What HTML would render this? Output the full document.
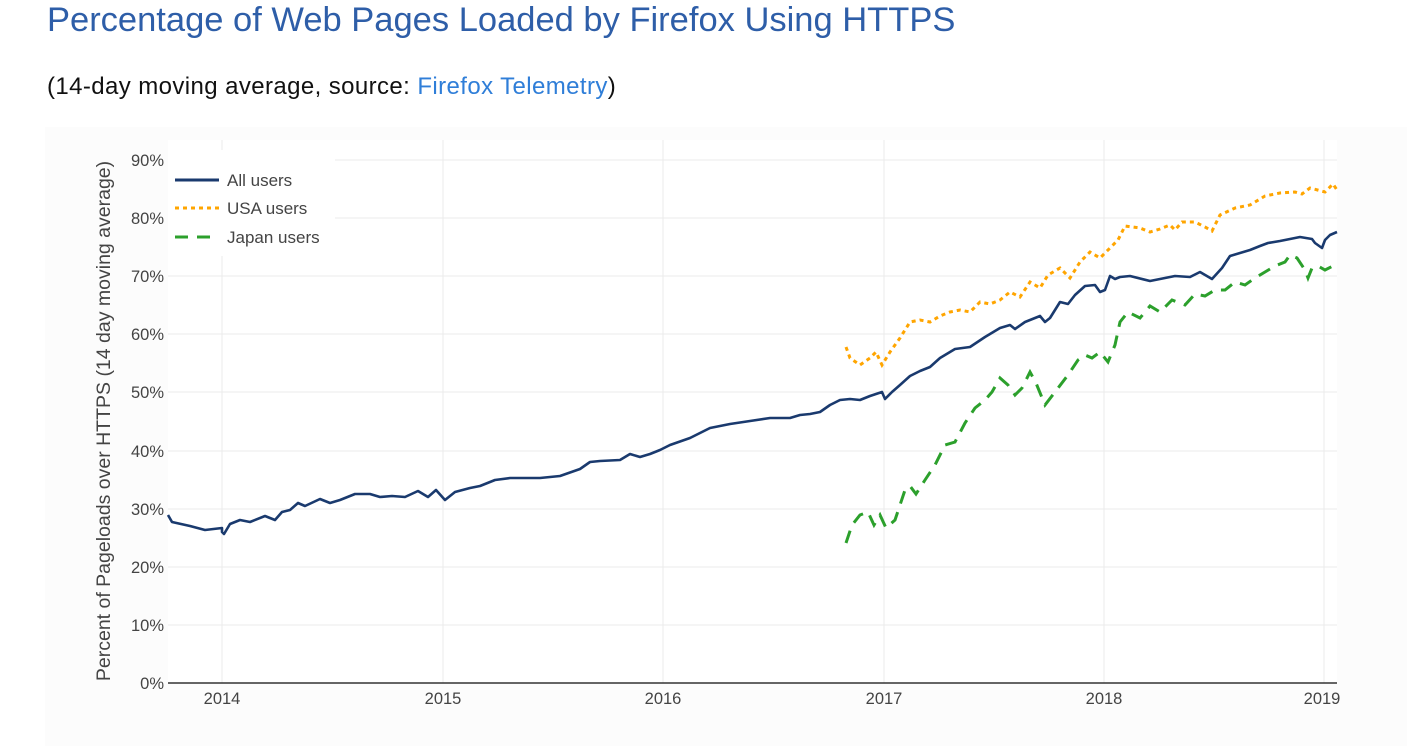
<!DOCTYPE html>
<html><head><meta charset="utf-8"><style>
body{margin:0;width:1407px;height:746px;background:#fff;font-family:"Liberation Sans",sans-serif;overflow:hidden;position:relative}
h1{position:absolute;left:47px;top:1px;margin:0;font-weight:normal;font-size:34.5px;color:#2e5ea8;letter-spacing:0px}
.sub{position:absolute;left:47px;top:73px;font-size:24px;color:#111;letter-spacing:0.4px}
.sub a{color:#2f7ed8;text-decoration:none}
</style></head><body>
<h1>Percentage of Web Pages Loaded by Firefox Using HTTPS</h1>
<div class="sub">(14-day moving average, source: <a>Firefox Telemetry</a>)</div>
<svg width="1407" height="746" style="position:absolute;left:0;top:0" font-family="Liberation Sans, sans-serif">
<rect x="45" y="127" width="1362" height="619" fill="#fcfcfc"/>
<rect x="168" y="140" width="1169" height="543" fill="#fff"/>
<g stroke="#ebebeb" stroke-width="1">
<line x1="168" x2="1337" y1="160" y2="160"/><line x1="168" x2="1337" y1="218" y2="218"/><line x1="168" x2="1337" y1="276" y2="276"/><line x1="168" x2="1337" y1="334" y2="334"/><line x1="168" x2="1337" y1="392" y2="392"/><line x1="168" x2="1337" y1="451" y2="451"/><line x1="168" x2="1337" y1="509" y2="509"/><line x1="168" x2="1337" y1="567" y2="567"/><line x1="168" x2="1337" y1="625" y2="625"/>
<line y1="140" y2="683" x1="222" x2="222"/><line y1="140" y2="683" x1="443" x2="443"/><line y1="140" y2="683" x1="663" x2="663"/><line y1="140" y2="683" x1="884" x2="884"/><line y1="140" y2="683" x1="1104" x2="1104"/><line y1="140" y2="683" x1="1324" x2="1324"/>
</g>
<rect x="168" y="150" width="167" height="106" fill="#fff"/>
<line x1="168" x2="1337" y1="683" y2="683" stroke="#333" stroke-width="1.5"/>
<g font-size="16.5" fill="#444" text-anchor="end">
<text x="164" y="166">90%</text><text x="164" y="224">80%</text><text x="164" y="282">70%</text><text x="164" y="340">60%</text><text x="164" y="398">50%</text><text x="164" y="457">40%</text><text x="164" y="515">30%</text><text x="164" y="573">20%</text><text x="164" y="631">10%</text><text x="164" y="689">0%</text>
</g>
<g font-size="16.5" fill="#444" text-anchor="middle">
<text x="222" y="704">2014</text><text x="443" y="704">2015</text><text x="663" y="704">2016</text><text x="884" y="704">2017</text><text x="1104" y="704">2018</text><text x="1322" y="704">2019</text>
</g>
<text transform="translate(110,421) rotate(-90)" font-size="19.5" fill="#444" text-anchor="middle">Percent of Pageloads over HTTPS (14 day moving average)</text>
<g font-size="17" fill="#444">
<line x1="175" x2="219" y1="180" y2="180" stroke="#1a3a6e" stroke-width="3"/><text x="227" y="186">All users</text>
<line x1="175" x2="219" y1="208" y2="208" stroke="#ffa500" stroke-width="3" stroke-dasharray="4,4"/><text x="227" y="214">USA users</text>
<line x1="175" x2="219" y1="237" y2="237" stroke="#2ca02c" stroke-width="3" stroke-dasharray="13,9"/><text x="227" y="243">Japan users</text>
</g>
<polyline fill="none" stroke="#1a3a6e" stroke-width="2.6" stroke-linejoin="round" points="168,515 172,522 190,526 205,530 222,528 222,532 224,534 230,524 240,520 250,522 265,516 275,520 282,512 290,510 298,503 305,506 320,499 330,503 340,500 355,494 370,494 380,497 392,496 405,497 418,491 428,497 436,490 445,500 455,492 470,488 480,486 495,480 510,478 525,478 540,478 560,476 580,469 590,462 600,461 620,460 630,454 640,457 650,454 660,450 670,445 690,438 710,428 730,424 750,421 770,418 790,418 800,415 810,414 820,412 830,405 840,400 850,399 860,400 870,396 882,392 885,399 892,392 900,385 910,376 920,371 930,367 940,358 955,349 970,347 985,337 1000,328 1010,325 1015,329 1025,322 1040,316 1045,322 1050,318 1060,302 1068,304 1075,295 1085,286 1095,285 1100,292 1105,290 1110,276 1115,279 1120,277 1130,276 1150,281 1165,278 1175,276 1190,277 1200,272 1212,279 1222,268 1230,256 1250,250 1260,246 1268,243 1280,241 1300,237 1312,239 1315,243 1322,248 1325,240 1330,235 1337,232"/>
<polyline fill="none" stroke="#ffa500" stroke-width="3" stroke-dasharray="4,4" points="846,347 850,358 860,365 870,358 876,352 882,365 890,352 900,338 910,322 920,320 930,322 940,316 950,312 960,310 970,312 980,302 990,304 1000,300 1010,292 1020,297 1030,282 1040,288 1048,275 1060,268 1070,278 1080,262 1090,252 1100,258 1110,248 1118,240 1125,226 1140,228 1150,232 1160,229 1170,225 1175,230 1182,222 1195,222 1205,227 1212,231 1220,215 1235,208 1250,205 1265,196 1280,193 1295,192 1302,194 1310,188 1325,192 1333,184 1337,190"/>
<polyline fill="none" stroke="#2ca02c" stroke-width="3" stroke-dasharray="13,9" points="846,543 852,525 860,515 868,512 874,525 880,515 886,528 895,520 905,490 910,486 916,494 925,480 935,465 945,445 955,442 965,423 975,408 985,400 992,392 1000,378 1008,385 1015,395 1022,388 1030,372 1036,383 1045,405 1055,392 1068,375 1078,360 1085,355 1092,358 1100,352 1108,362 1115,345 1120,322 1128,312 1140,318 1150,306 1160,312 1172,300 1185,305 1195,294 1205,296 1215,290 1225,290 1235,282 1245,285 1255,278 1265,272 1275,266 1285,262 1290,255 1297,258 1305,270 1308,278 1312,268 1318,266 1325,270 1337,264"/>
</svg>
</body></html>
